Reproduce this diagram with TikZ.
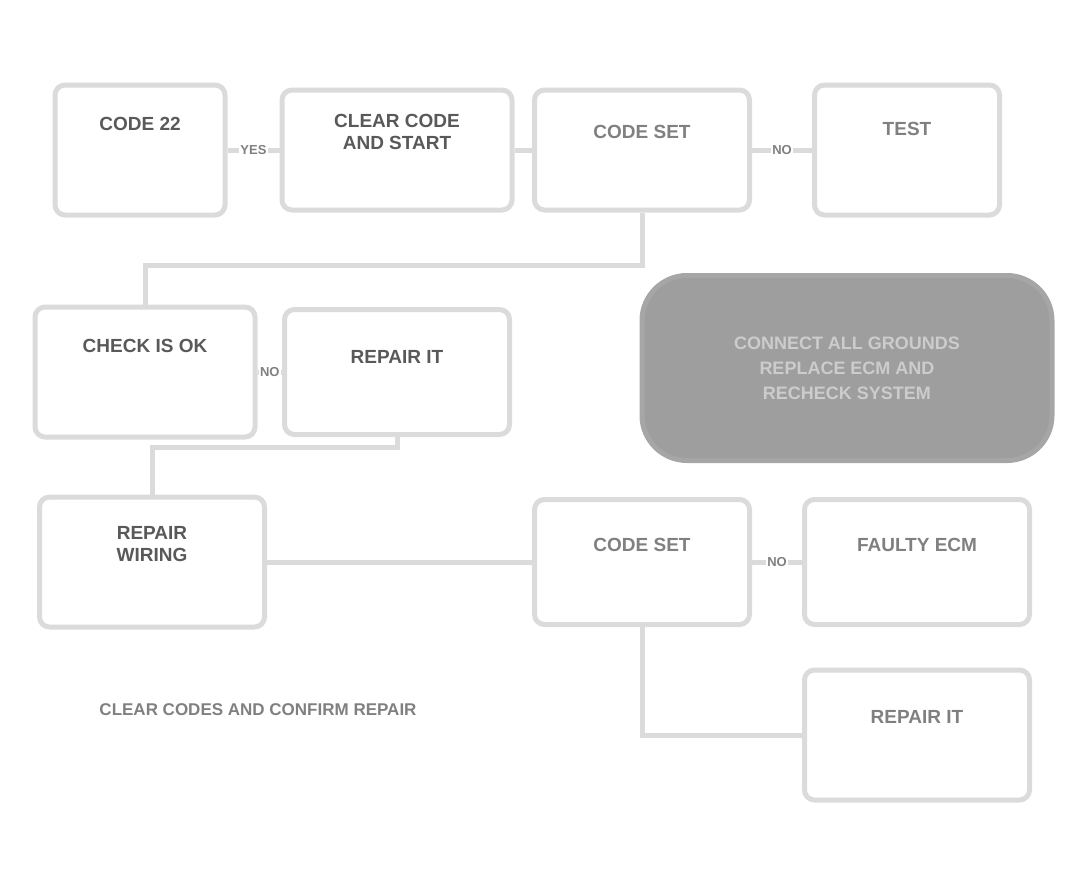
\documentclass[tikz,border=0pt]{standalone}
\usepackage{fontspec}
\setmainfont{Liberation Sans}
\begin{document}
\begin{tikzpicture}[x=1pt,y=-1pt,
  box/.style={draw=black!14, line width=5pt, rounded corners=10pt, fill=white, inner sep=6pt,
    font=\bfseries\fontsize{19}{22}\selectfont, text=black!50, align=center},
  darktext/.style={text=black!65},
  wire/.style={draw=black!14, line width=5pt},
  lab/.style={font=\bfseries\fontsize{13}{15}\selectfont, text=black!50, fill=white, inner sep=1pt}]
\useasboundingbox (0,0) rectangle (1088,870);
% row 1
\node[box, darktext, minimum width=170pt, minimum height=130pt] (A) at (140,150) {CODE 22\\[30pt]~};
\node[box, darktext, minimum width=230pt, minimum height=120pt] (B) at (397,150) {CLEAR CODE\\AND START\\[14pt]~};
\node[box, minimum width=215pt, minimum height=120pt] (C) at (642,150) {CODE SET\\[14pt]~};
\node[box, minimum width=185pt, minimum height=130pt] (D) at (907,150) {TEST\\[20pt]~};
% row 2
\node[box, darktext, minimum width=220pt, minimum height=130pt] (E) at (145,372) {CHECK IS OK\\[30pt]~};
\node[box, darktext, minimum width=225pt, minimum height=125pt] (F) at (397,372) {REPAIR IT\\[8pt]~};
\node[draw=black!35, line width=5pt, fill=black!38, rounded corners=45pt,
  minimum width=410pt, minimum height=185pt, align=center,
  font=\bfseries\fontsize{18}{25}\selectfont, text=black!20] (N) at (847,368)
  {CONNECT ALL GROUNDS\\REPLACE ECM AND\\RECHECK SYSTEM};
% row 3
\node[box, darktext, minimum width=225pt, minimum height=130pt] (G) at (152,562) {REPAIR\\WIRING\\[14pt]~};
\node[box, minimum width=215pt, minimum height=125pt] (H) at (642,562) {CODE SET\\[12pt]~};
\node[box, minimum width=225pt, minimum height=125pt] (I) at (917,562) {FAULTY ECM\\[12pt]~};
\node[box, minimum width=225pt, minimum height=130pt] (J) at (917,735) {REPAIR IT\\[14pt]~};
\node[font=\bfseries\fontsize{17}{20}\selectfont, text=black!50] (K) at (258,710) {CLEAR CODES AND CONFIRM REPAIR};
% connectors
\coordinate (c1) at (642,265);
\coordinate (c2) at (152,447);
\coordinate (c3) at (642,735);
\draw[wire] (A.east) -- node[lab]{YES} (B.west);
\draw[wire] (B.east) -- (C.west);
\draw[wire] (C.east) -- node[lab]{NO} (D.west);
\draw[wire] (C.south) -- (c1) -| (E.north);
\draw[wire] (E.east) -- node[lab]{NO} (F.west);
\draw[wire] (F.south) |- (c2) -- (G.north);
\draw[wire] (G.east) -- (H.west);
\draw[wire] (H.east) -- node[lab]{NO} (I.west);
\draw[wire] (H.south) -- (c3) -- (J.west);
\end{tikzpicture}
\end{document}
